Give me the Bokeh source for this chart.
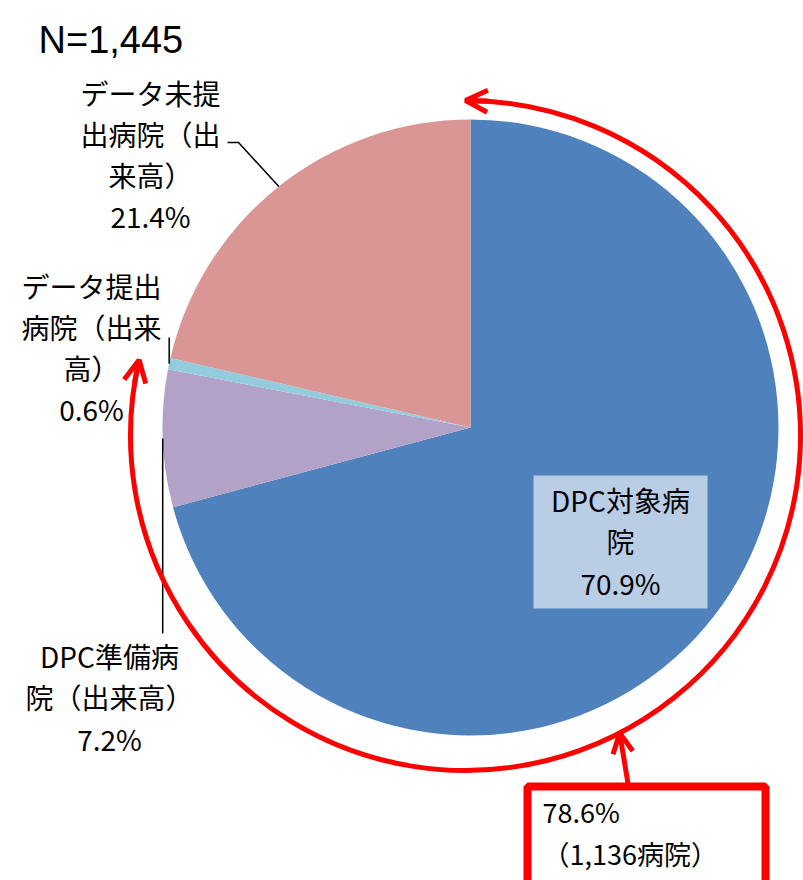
import numpy as np
from bokeh.plotting import figure
from bokeh.models import Range1d, Arrow, OpenHead, ColumnDataSource
from bokeh.core.properties import value
from bokeh.embed import file_html
from bokeh.resources import INLINE

# ---------------- data ----------------
categories = ["DPC対象病院", "DPC準備病院（出来高）", "データ提出病院（出来高）", "データ未提出病院（出来高）"]
label_lines = ["DPC対象病\n院", "DPC準備病\n院（出来高）", "データ提出\n病院（出来\n高）", "データ未提\n出病院（出\n来高）"]
shares = [70.9, 7.2, 0.6, 21.4]
colors = ["#4F81BD", "#B3A2C7", "#93CDDD", "#D99694"]
total_n = 1445
highlight_share = 78.6
highlight_count = 1136
highlight_slices = 3  # first three slices are inside the red arc

FONT = "Noto Sans CJK JP"

# ---------------- layout ----------------
W, H = 803, 880
p = figure(width=W, height=H, x_range=Range1d(0, 803), y_range=Range1d(0, 880),
           output_backend="svg", toolbar_location=None, min_border=0,
           x_axis_type=None, y_axis_type=None)
p.grid.visible = False
p.outline_line_color = None
p.background_fill_color = "white"
p.border_fill_color = "white"

CX, CY, R = 470, 453, 308
frac = np.array(shares) / sum(shares)
cum = np.cumsum(frac)
start = np.pi / 2 - 2 * np.pi * (cum - frac)
end = np.pi / 2 - 2 * np.pi * cum
src = ColumnDataSource(dict(cat=categories, start=start, end=end, color=colors))
p.wedge(x=CX, y=CY, radius=R, start_angle="start", end_angle="end", direction="clock",
        fill_color="color", line_color=None, source=src)

# leader lines (start at the rim at each slice's mid angle)
mid = np.pi / 2 - 2 * np.pi * (cum - frac / 2)
rx = CX + R * np.cos(mid)
ry = CY + R * np.sin(mid)
leader_ends = {1: [(rx[1], 247)], 2: [(rx[2], 543)], 3: [(238, 738), (227, 738)]}
for i, pts in leader_ends.items():
    xs = [rx[i]] + [q[0] for q in pts]
    ys = [ry[i]] + [q[1] for q in pts]
    p.line(xs, ys, line_color="black", line_width=1.5)

# label box for the big slice
p.quad(left=533, right=707, bottom=272, top=405, fill_color="#B9CDE5", line_color=None)

# red arc with arrows
ACX, ACY, AR = 465, 445, 335
red = "#FF0000"
a0 = np.pi / 2
a1 = np.pi / 2 - 2 * np.pi * cum[highlight_slices - 1]
p.arc(x=ACX, y=ACY, radius=AR, start_angle=a0, end_angle=a1, direction="clock",
      line_color=red, line_width=5)
d = np.radians(4)
for tip, back in [(a0, a0 - d), (a1, a1 + d)]:
    p.add_layout(Arrow(end=OpenHead(size=22, line_color=red, line_width=5),
                       x_start=ACX + AR * np.cos(back), y_start=ACY + AR * np.sin(back),
                       x_end=ACX + AR * np.cos(tip), y_end=ACY + AR * np.sin(tip),
                       line_color=red, line_width=5))
ptr = np.radians(-62.6)
p.add_layout(Arrow(end=OpenHead(size=20, line_color=red, line_width=5),
                   x_start=628, y_start=94,
                   x_end=ACX + AR * np.cos(ptr), y_end=ACY + AR * np.sin(ptr),
                   line_color=red, line_width=5))

# highlight box
p.quad(left=527, right=765, bottom=-20, top=94, fill_color="white", line_color=red, line_width=8)

# slice labels
pos_x = [620, 109, 91, 150]
pos_y = [339, 183, 533, 726]
texts = [f"{lab}\n{s}%" for lab, s in zip(label_lines, shares)]
p.text(x=pos_x, y=pos_y, text=texts, text_align="center", text_baseline="middle",
       text_font=value(FONT), text_font_size="28px", text_line_height=1.03, text_color="black")

# title
p.text(x=[38], y=[841], text=[f"N={total_n:,}"], text_align="left", text_baseline="alphabetic",
       text_font=value("Liberation Sans"), text_font_size="38px", text_color="black")

# highlight text
p.text(x=[542], y=[48], text=[f"{highlight_share}%\n（{highlight_count:,}病院）"],
       text_align="left", text_baseline="middle", text_font=value(FONT),
       text_font_size="27px", text_line_height=1.06, text_color="black")

open("out.html", "w").write(file_html(p, INLINE))
